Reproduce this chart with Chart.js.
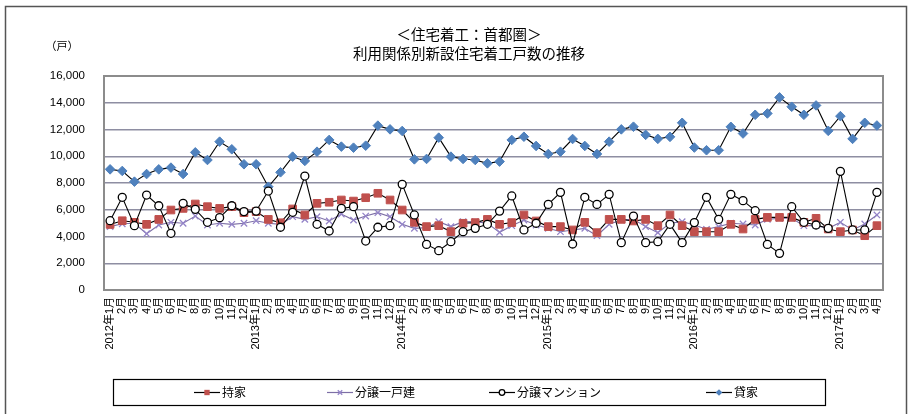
<!DOCTYPE html>
<html lang="ja">
<head>
<meta charset="utf-8">
<title>利用関係別新設住宅着工戸数の推移</title>
<script src="https://cdn.jsdelivr.net/npm/chart.js@4.4.1/dist/chart.umd.min.js"></script>
<style>
    html, body { margin: 0; padding: 0; background: #fff; }
    #wrap { position: relative; width: 917px; height: 414px; }
</style>
</head>
<body>
<div id="wrap"><canvas id="startsChart" width="917" height="414"></canvas></div>
<script>
// Monthly categories, Jan 2012 - Apr 2017
const years = [2012, 2013, 2014, 2015, 2016, 2017];
const monthNames = ['1月', '2月', '3月', '4月', '5月', '6月', '7月', '8月', '9月', '10月', '11月', '12月'];
const lastMonthCount = 4;

// 持家
const ownerOccupied = [
    4900, 5180, 5060, 4910, 5280, 5980, 6100, 6430, 6230, 6100, 6230, 5780,
    5860, 5280, 5030, 6060, 5610, 6480, 6560, 6730, 6650, 6900, 7230, 6730,
    5980, 5060, 4740, 4810, 4360, 4990, 5040, 5280, 4910, 5040, 5610, 5160,
    4740, 4740, 4490, 5060, 4290, 5280, 5280, 5160, 5280, 4810, 5610, 4810,
    4360, 4360, 4360, 4910, 4560, 5280, 5430, 5430, 5430, 5060, 5360, 4560,
    4360, 4490, 4060, 4810
];
// 分譲一戸建
const detachedForSale = [
    4740, 4950, 4990, 4210, 4860, 5060, 4990, 5530, 4860, 4990, 4910, 4990,
    5180, 4990, 4910, 5480, 5280, 5480, 5160, 5680, 5230, 5530, 5780, 5480,
    4910, 4610, 4660, 5110, 4740, 5110, 5110, 4990, 4310, 4810, 5230, 4860,
    4610, 4360, 4490, 4610, 4060, 4910, 5230, 5280, 4740, 4290, 4990, 5110,
    4860, 4540, 4740, 4990, 4940, 4860, 5280, 5360, 5360, 4810, 4810, 4610,
    5060, 4490, 4940, 5610
];
// 分譲マンション
const condoForSale = [
    5180, 6930, 4810, 7100, 6300, 4240, 6480, 6030, 5060, 5410, 6300, 5860,
    5900, 7400, 4690, 5810, 8520, 4910, 4410, 6100, 6230, 3660, 4690, 4810,
    7900, 5610, 3410, 2940, 3610, 4360, 4610, 4910, 5900, 7030, 4490, 4990,
    6400, 7300, 3440, 6930, 6400, 7150, 3540, 5530, 3540, 3610, 4910, 3540,
    5040, 6930, 5280, 7150, 6680, 5930, 3410, 2740, 6230, 5060, 4860, 4610,
    8870, 4490, 4490, 7300
];
// 貸家
const rental = [
    9020, 8900, 8100, 8670, 9020, 9150, 8670, 10290, 9720, 11090, 10520, 9400,
    9400, 7720, 8800, 9970, 9650, 10340, 11220, 10720, 10640, 10790, 12290, 12010,
    11890, 9770, 9800, 11390, 9970, 9800, 9720, 9470, 9600, 11220, 11460, 10770,
    10170, 10340, 11290, 10770, 10170, 11090, 12010, 12210, 11600, 11300, 11450, 12500,
    10650, 10450, 10450, 12200, 11700, 13100, 13200, 14400, 13700, 13100, 13800, 11900,
    13000, 11300, 12500, 12300
];

const yTicks = [0, 2000, 4000, 6000, 8000, 10000, 12000, 14000, 16000];
const titleLines = ['＜住宅着工：首都圏＞', '利用関係別新設住宅着工戸数の推移'];
const unitLabel = '（戸）';

const labels = [];
years.forEach((y, yi) => {
    const n = yi === years.length - 1 ? lastMonthCount : 12;
    for (let m = 0; m < n; m++) {
        labels.push(m === 0 ? y + '年' + monthNames[m] : monthNames[m]);
    }
});

const JP_FONT = "'Liberation Sans', 'Noto Sans CJK JP', sans-serif";

const datasets = [
    {
        label: '持家', data: ownerOccupied, order: 1,
        borderColor: '#000', borderWidth: 1.1,
        pointStyle: 'rect', pointRadius: 5.4,
        pointBackgroundColor: '#c0504d', pointBorderColor: '#c0504d', pointBorderWidth: 1
    },
    {
        label: '分譲一戸建', data: detachedForSale, order: 2,
        borderColor: '#7d6fa6', borderWidth: 1.1,
        pointStyle: 'crossRot', pointRadius: 4.5,
        pointBackgroundColor: '#9484c8', pointBorderColor: '#9484c8', pointBorderWidth: 1.3
    },
    {
        label: '分譲マンション', data: condoForSale, order: 0,
        borderColor: '#000', borderWidth: 1.1,
        pointStyle: 'circle', pointRadius: 4,
        pointBackgroundColor: '#fff', pointBorderColor: '#000', pointBorderWidth: 1.3
    },
    {
        label: '貸家', data: rental, order: 3,
        borderColor: '#000', borderWidth: 1.1,
        pointStyle: 'rectRot', pointRadius: 4.8,
        pointBackgroundColor: '#4f81bd', pointBorderColor: '#4f81bd', pointBorderWidth: 1
    }
];

// Legend marker, drawn like the points but smaller
function drawMarker(ctx, ds, x, y, scale) {
    const r = ds.pointRadius * scale;
    ctx.save();
    ctx.fillStyle = ds.pointBackgroundColor;
    ctx.strokeStyle = ds.pointBorderColor;
    ctx.lineWidth = ds.pointBorderWidth;
    ctx.beginPath();
    if (ds.pointStyle === 'rect') {
        const s = r * Math.SQRT1_2;
        ctx.rect(x - s, y - s, 2 * s, 2 * s);
        ctx.fill();
    } else if (ds.pointStyle === 'rectRot') {
        ctx.moveTo(x, y - r); ctx.lineTo(x + r, y); ctx.lineTo(x, y + r); ctx.lineTo(x - r, y);
        ctx.closePath();
        ctx.fill();
    } else if (ds.pointStyle === 'circle') {
        ctx.arc(x, y, r, 0, Math.PI * 2);
        ctx.fill();
        ctx.stroke();
    } else {
        const s = r * Math.SQRT1_2;
        ctx.moveTo(x - s, y - s); ctx.lineTo(x + s, y + s);
        ctx.moveTo(x + s, y - s); ctx.lineTo(x - s, y + s);
        ctx.stroke();
    }
    ctx.restore();
}

// Sheet frame, titles, plot border and the boxed legend
const decorations = {
    id: 'decorations',
    beforeDraw(chart) {
        const ctx = chart.ctx;
        ctx.save();
        ctx.fillStyle = '#fff';
        ctx.fillRect(0, 0, chart.width, chart.height);
        ctx.strokeStyle = '#555';
        ctx.lineWidth = 1.5;
        ctx.strokeRect(5.5, 6.5, 901, 420);
        ctx.restore();
    },
    afterDraw(chart) {
        const ctx = chart.ctx;
        const area = chart.chartArea;
        ctx.save();

        // plot frame
        ctx.strokeStyle = '#8c8c8c';
        ctx.lineWidth = 2;
        ctx.strokeRect(area.left, area.top, area.right - area.left, area.bottom - area.top);

        // titles
        ctx.fillStyle = '#000';
        ctx.textAlign = 'center';
        ctx.textBaseline = 'middle';
        ctx.font = "14.5px 'Noto Sans CJK JP', sans-serif";
        ctx.fillText(titleLines[0], 469, 34);
        ctx.fillText(titleLines[1], 469, 53);
        ctx.font = "11px 'Noto Sans CJK JP', sans-serif";
        ctx.fillText(unitLabel, 62, 46);

        // legend
        ctx.strokeStyle = '#000';
        ctx.lineWidth = 1.2;
        ctx.strokeRect(113.5, 379.5, 712, 26);
        const centers = [207, 340, 502, 719];
        const ly = 392.5;
        ctx.font = "12px 'Noto Sans CJK JP', sans-serif";
        ctx.textAlign = 'left';
        chart.data.datasets.forEach((ds, i) => {
            const cx = centers[i];
            ctx.strokeStyle = ds.borderColor;
            ctx.lineWidth = 1.2;
            ctx.beginPath();
            ctx.moveTo(cx - 13, ly);
            ctx.lineTo(cx + 13, ly);
            ctx.stroke();
            drawMarker(ctx, ds, cx, ly, 0.7);
            ctx.fillStyle = '#000';
            ctx.fillText(ds.label, cx + 15, ly);
        });
        ctx.restore();
    }
};

const ctx = document.getElementById('startsChart').getContext('2d');
new Chart(ctx, {
    type: 'line',
    data: { labels: labels, datasets: datasets },
    options: {
        responsive: false,
        animation: false,
        layout: { padding: { top: 76, left: 0, right: 34, bottom: 64 } },
        plugins: {
            legend: { display: false },
            title: { display: false },
            tooltip: { enabled: false }
        },
        elements: { line: { tension: 0 } },
        scales: {
            x: {
                type: 'category',
                offset: true,
                grid: { display: false, drawTicks: false },
                border: { display: false },
                afterFit(scale) { scale.height = 60; },
                ticks: {
                    autoSkip: false,
                    minRotation: 90,
                    maxRotation: 90,
                    padding: 7,
                    color: '#000',
                    font: { family: JP_FONT, size: 11 }
                }
            },
            y: {
                min: yTicks[0],
                max: yTicks[yTicks.length - 1],
                afterFit(scale) { scale.width = 104; },
                afterBuildTicks(scale) { scale.ticks = yTicks.map(v => ({ value: v })); },
                grid: { color: '#8e8ea2', lineWidth: 1.5, drawTicks: false },
                border: { display: false },
                ticks: {
                    padding: 19,
                    color: '#000',
                    font: { family: JP_FONT, size: 11.5 },
                    callback: v => v.toLocaleString('en-US')
                }
            }
        }
    },
    plugins: [decorations]
});
</script>
</body>
</html>
